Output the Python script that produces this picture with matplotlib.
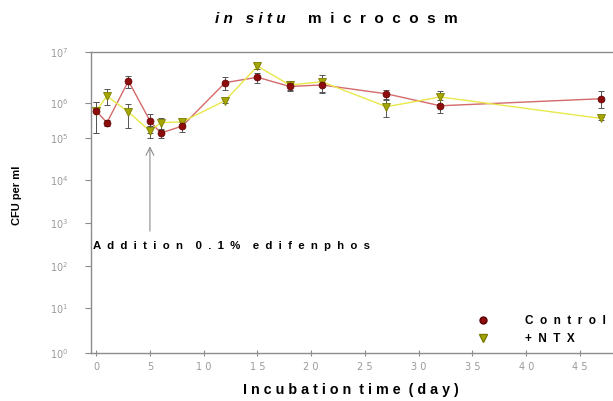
import numpy as np
import matplotlib
matplotlib.use("Agg")
import matplotlib.pyplot as plt
from matplotlib.lines import Line2D
from matplotlib.ticker import FixedLocator, NullLocator, FuncFormatter

# Sampling days and plate counts (CFU per ml, mean and SD)
days = [0, 1, 3, 5, 6, 8, 12, 15, 18, 21, 27, 32, 47]
control = [5.9e5, 2.75e5, 2.7e6, 3.1e5, 1.4e5, 2.2e5, 2.5e6, 3.2e6, 2.1e6, 2.25e6, 1.5e6, 8.2e5, 1.2e6]
control_err = [4.5e5, 5e4, 7e5, 1.7e5, 4e4, 7e4, 7e5, 7e5, 4e5, 7e5, 3e5, 3e5, 5e5]
ntx = [5.9e5, 1.35e6, 5.5e5, 1.6e5, 2.75e5, 2.9e5, 1.1e6, 5.3e6, 2.25e6, 2.6e6, 7.7e5, 1.3e6, 3.6e5]
ntx_err = [4.5e5, 5e5, 3.6e5, 6e4, 1e5, 3e4, 1e5, 6e5, 5e5, 1e6, 3.8e5, 4e5, 4e4]

x_ticks = [0, 5, 10, 15, 20, 25, 30, 35, 40, 45]
decades = [0, 1, 2, 3, 4, 5, 6, 7]
addition_day = 5

# uneven decade spacing of the printed log axis
decade_heights = [0, 44.4, 86.7, 130, 172.7, 214.4, 250, 300.4]


def spaced(s, gap=1, word_gap=None):
    if word_gap is None:
        word_gap = 2 * gap
    return (" " * word_gap).join((" " * gap).join(w) for w in s.split(" "))


def fwd(v):
    v = np.clip(np.asarray(v, dtype=float), 1e-12, None)
    return np.interp(np.log10(v), decades, decade_heights)


def inv(h):
    return 10.0 ** np.interp(np.asarray(h, dtype=float), decade_heights, decades)


W, H = 613, 401
fig = plt.figure(figsize=(W / 100, H / 100), dpi=100)
ax = fig.add_axes([90.7 / W, 1 - 352.7 / H, (612 - 90.7) / W, (352.7 - 52.3) / H])

ax.set_yscale("function", functions=(fwd, inv))
ax.set_ylim(1, 1e7)
ax.set_xlim(-0.51, 47.98)

red_line = "#d46a6a"
red_mark = "#8e0c0c"
yel_line = "#e8e84a"
yel_mark = "#a6a600"

ax.plot(days, control, color=red_line, lw=1.0, zorder=2)
ax.plot(days, ntx, color=yel_line, lw=1.0, zorder=2)
ax.errorbar(days, ntx, yerr=ntx_err, fmt="none", ecolor="#555555",
            elinewidth=0.7, capsize=2.5, capthick=0.7, zorder=3)
ax.errorbar(days, control, yerr=control_err, fmt="none", ecolor="#555555",
            elinewidth=0.7, capsize=2.5, capthick=0.7, zorder=3)
ax.plot(days, ntx, ls="none", marker="v", ms=6, color=yel_mark,
        mec="#7a7a00", mew=0.6, zorder=4)
ax.plot(days, control, ls="none", marker="o", ms=5, color=red_mark,
        mec="#5a0000", mew=0.5, zorder=5)

# spines and ticks
for side in ("left", "bottom", "top"):
    ax.spines[side].set_color("#8c8c8c")
    ax.spines[side].set_linewidth(1.0)
ax.spines["right"].set_visible(False)

ax.xaxis.set_major_locator(FixedLocator(x_ticks))
ax.xaxis.set_major_formatter(FuncFormatter(lambda v, p: " ".join(str(int(v)))))
ax.yaxis.set_major_locator(FixedLocator([10.0 ** d for d in decades]))
ax.yaxis.set_minor_locator(NullLocator())
ax.yaxis.set_major_formatter(
    FuncFormatter(lambda v, p: r"$10^{%d}$" % int(round(np.log10(v)))))
ax.tick_params(axis="x", direction="inout", length=5, width=0.8,
               color="#8c8c8c", labelcolor="#9a9a9a", labelsize=7, pad=4)
ax.tick_params(axis="y", direction="out", length=4, width=0.8,
               color="#8c8c8c", labelcolor="#9a9a9a", labelsize=7, pad=12)

font = "Liberation Sans"

ax.set_xlabel(spaced("Incubation time (day)"), fontsize=10.3, fontweight="bold",
              family=font, labelpad=8)
fig.text(17 / W, 1 - 195 / H, "CFU per ml", rotation=90, fontsize=8,
         fontweight="bold", family=font, ha="center", va="center")

# title: italic "in situ" followed by upright "microcosm"
fig.text(215 / W, 1 - 19 / H, spaced("in situ", gap=1, word_gap=3), fontsize=11,
         fontweight="bold", style="italic", family=font, ha="left", va="center")
fig.text(308 / W, 1 - 19 / H, spaced("microcosm", gap=2), fontsize=11,
         fontweight="bold", family=font, ha="left", va="center")

# treatment marker
ax.annotate("", xy=(addition_day, 7.5e4), xytext=(addition_day, 5.5e2),
            arrowprops=dict(arrowstyle="->", color="#8c8c8c", lw=0.8,
                            mutation_scale=14))
ax.text(0.004, 0.356, spaced("Addition 0.1% edifenphos", gap=2),
        transform=ax.transAxes, fontsize=8.2, fontweight="bold", family=font,
        ha="left", va="center")

handles = [
    Line2D([], [], ls="none", marker="o", ms=5, color=red_mark, mec="#5a0000"),
    Line2D([], [], ls="none", marker="v", ms=6, color=yel_mark, mec="#7a7a00"),
]
leg = ax.legend(handles, [spaced("Control", gap=2), spaced("+ NTX", gap=2, word_gap=2)],
                loc="upper left", bbox_to_anchor=(477 / W, 1 - 315 / H),
                bbox_transform=fig.transFigure, frameon=False,
                handlelength=1.0, handletextpad=3.1, borderpad=0,
                borderaxespad=0, labelspacing=0.5,
                prop=dict(family=font, weight="bold", size=8.5))

fig.savefig("out.png", dpi=100)
